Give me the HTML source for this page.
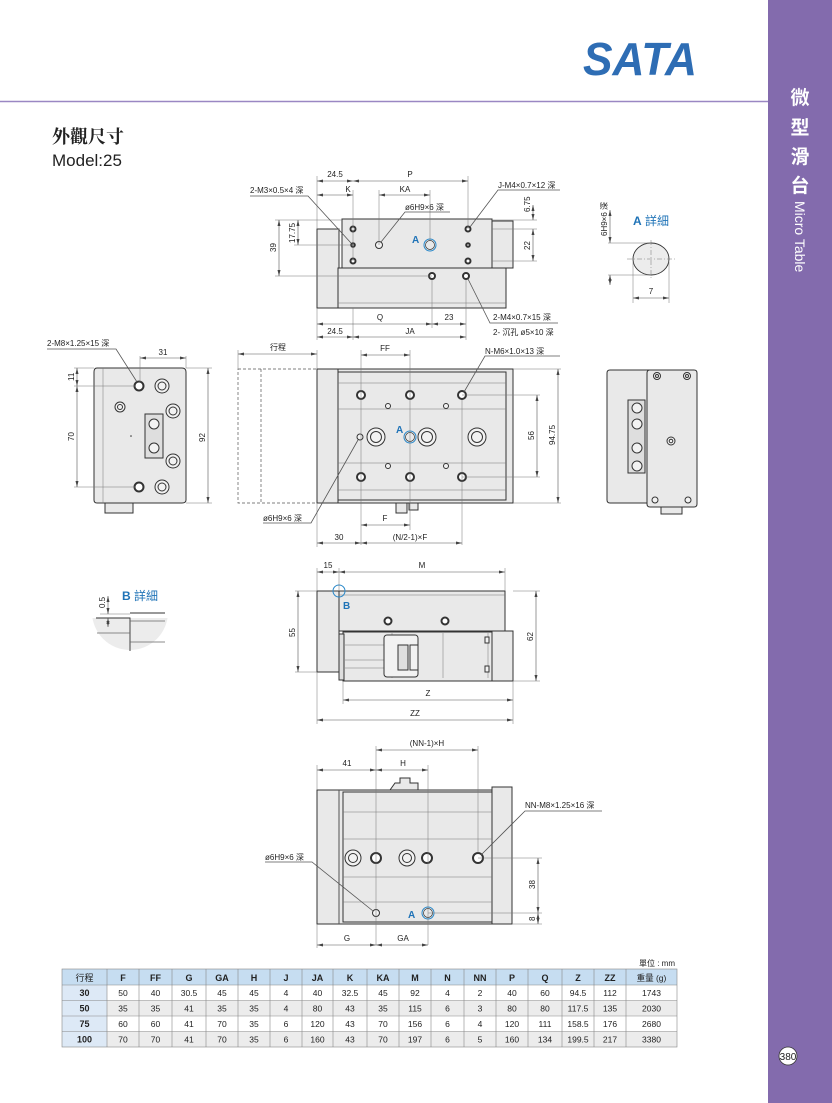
<!DOCTYPE html>
<html><head><meta charset="utf-8"><style>
html,body{margin:0;padding:0;background:#fff}
svg{display:block}
text{font-family:"Liberation Sans","Noto Sans CJK TC",sans-serif;fill:#222}
.p{fill:#e9e9e9;stroke:#333;stroke-width:1}
.q{fill:#dedede;stroke:#333;stroke-width:1}
.d{stroke:#555;stroke-width:.6;fill:none;marker-start:url(#ar);marker-end:url(#ar)}
.e{stroke:#777;stroke-width:.5;fill:none}
.s{stroke:#555;stroke-width:.8;fill:none}
.h{fill:#f2f2f2;stroke:#333;stroke-width:1}
.hb{fill:#fff;stroke:#333;stroke-width:2}
.bl{fill:none;stroke:#2a88c9;stroke-width:1}
.t{font-size:8px}
.tc{font-size:8px;text-anchor:middle}
</style></head><body>
<svg width="832" height="1103" viewBox="0 0 832 1103" xmlns="http://www.w3.org/2000/svg">
<defs>
<marker id="ar" viewBox="0 0 8 4" refX="8" refY="2" markerWidth="6" markerHeight="3" orient="auto-start-reverse" markerUnits="userSpaceOnUse"><path d="M0,0L8,2L0,4z" fill="#444"/></marker>
<clipPath id="bc"><rect x="90" y="618" width="90" height="50"/></clipPath>
</defs>

<!-- sidebar -->
<rect x="768" y="0" width="64" height="1103" fill="#836bad"/>
<line x1="0" y1="101.5" x2="768" y2="101.5" stroke="#9a87c3" stroke-width="1.5"/>
<g fill="#fff" font-weight="bold" font-size="19">
<text x="800" y="104" text-anchor="middle" style="fill:#fff">微</text>
<text x="800" y="134" text-anchor="middle" style="fill:#fff">型</text>
<text x="800" y="163" text-anchor="middle" style="fill:#fff">滑</text>
<text x="800" y="192" text-anchor="middle" style="fill:#fff">台</text>
</g>
<text x="0" y="0" transform="translate(795,201) rotate(90)" font-size="14" style="fill:#fff">Micro Table</text>
<circle cx="788" cy="1056" r="9" fill="#fff" stroke="#333" stroke-width=".8"/>
<text x="788" y="1060" font-size="10" text-anchor="middle">380</text>

<!-- logo -->
<text x="583" y="75" font-size="46" font-weight="bold" font-style="italic" textLength="114" lengthAdjust="spacingAndGlyphs" style="fill:#2e6db4">SATA</text>

<!-- title -->
<text x="52" y="143" font-size="18" font-weight="bold" style="font-family:'Liberation Serif','Noto Serif CJK SC',serif">外觀尺寸</text>
<text x="52" y="166" font-size="17">Model:25</text>

<!-- ===== VIEW 1 top ===== -->
<rect class="p" x="317" y="229" width="22" height="79"/>
<rect class="p" x="338" y="268" width="168" height="40"/>
<line class="e" x1="338" y1="303" x2="506" y2="303"/>
<rect class="p" x="342" y="219" width="150" height="49"/>
<rect class="p" x="492" y="221" width="21" height="47"/>
<circle class="hb" cx="353" cy="229" r="2.5"/><circle class="hb" cx="353" cy="245" r="1.8"/><circle class="hb" cx="353" cy="261" r="2.5"/>
<circle class="hb" cx="468" cy="229" r="2.5"/><circle class="hb" cx="468" cy="245" r="1.8"/><circle class="hb" cx="468" cy="261" r="2.5"/>
<circle class="h" cx="379" cy="245" r="3.5"/>
<circle class="bl" cx="430" cy="245" r="6"/><circle fill="none" stroke="#333" stroke-width=".7" cx="430" cy="245" r="4.5"/>
<circle class="hb" cx="432" cy="276" r="3"/><circle class="hb" cx="466" cy="276" r="3"/>
<text x="412" y="243" font-size="10" font-weight="bold" style="fill:#1f73b7">A</text>
<!-- ext lines -->
<path class="e" d="M317 176V229M353 190V261M468 176V229M379 190V245M430 190V240M317 308V340M353 308V340M432 280V328M466 280V340M275 220H342M275 276H432M294 245H353M492 220H537M492 229H537M492 261H537"/>
<line class="d" x1="317" y1="181" x2="353" y2="181"/><line class="d" x1="353" y1="181" x2="468" y2="181"/>
<text class="tc" x="335" y="177">24.5</text><text class="tc" x="410" y="177">P</text>
<line class="d" x1="317" y1="195" x2="353" y2="195"/><line class="d" x1="379" y1="195" x2="430" y2="195"/>
<text class="tc" x="348" y="192">K</text><text class="tc" x="405" y="192">KA</text>
<line class="d" x1="279" y1="220" x2="279" y2="276"/><text class="t" transform="translate(276,252) rotate(-90)">39</text>
<line class="d" x1="298" y1="220" x2="298" y2="245"/><text class="t" transform="translate(295,243) rotate(-90)">17.75</text>
<line class="d" x1="533" y1="205" x2="533" y2="220"/><line class="d" x1="533" y1="229" x2="533" y2="261"/>
<text class="t" transform="translate(530,212) rotate(-90)">6.75</text><text class="t" transform="translate(530,250) rotate(-90)">22</text>
<line class="d" x1="317" y1="324" x2="432" y2="324"/><line class="d" x1="432" y1="324" x2="466" y2="324"/>
<text class="tc" x="380" y="320">Q</text><text class="tc" x="449" y="320">23</text>
<line class="d" x1="317" y1="337" x2="353" y2="337"/><line class="d" x1="353" y1="337" x2="466" y2="337"/>
<text class="tc" x="335" y="334">24.5</text><text class="tc" x="410" y="334">JA</text>
<text class="t" x="250" y="193">2-M3×0.5×4 深</text><path class="s" d="M250 196H308L351 243"/>
<text class="t" x="405" y="210">ø6H9×6 深</text><path class="s" d="M450 212H405L381 242"/>
<text class="t" x="498" y="188">J-M4×0.7×12 深</text><path class="s" d="M560 190H498L470 227"/>
<text class="t" x="493" y="320">2-M4×0.7×15 深</text><text class="t" x="493" y="335">2- 沉孔 ø5×10 深</text>
<path class="s" d="M558 323H490L468 279"/>

<!-- A detail -->
<text x="633" y="225" font-size="12" style="fill:#1f73b7"><tspan font-weight="bold">A</tspan> 詳細</text>
<ellipse cx="651" cy="259" rx="18" ry="16" fill="#ececec" stroke="#333" stroke-width=".9"/>
<path class="e" d="M627 259H676M651 240V278" stroke-dasharray="5 2 1 2"/>
<path class="e" d="M608 243H651M608 275H651M633 262V303M669 262V303"/>
<line class="d" x1="610" y1="210" x2="610" y2="243"/><line class="d" x1="610" y1="275" x2="610" y2="285"/>
<text class="t" transform="translate(607,236) rotate(-90)" font-size="7">6H9×6 深</text>
<line class="d" x1="633" y1="298" x2="669" y2="298"/><text class="tc" x="651" y="294">7</text>

<!-- ===== VIEW 2 mid ===== -->
<rect x="238" y="369" width="79" height="134" fill="none" stroke="#555" stroke-width=".7" stroke-dasharray="3 2"/>
<line x1="261" y1="369" x2="261" y2="503" stroke="#555" stroke-width=".7" stroke-dasharray="3 2"/>
<rect class="p" x="317" y="369" width="196" height="134"/>
<rect class="p" x="317" y="369" width="21" height="134"/>
<rect class="p" x="338" y="372" width="168" height="128"/>
<path class="e" d="M338 383H506M338 409H506M338 463H506M338 490H506" stroke="#444" stroke-width=".8"/>
<rect class="p" x="396" y="503" width="11" height="10"/><rect class="p" x="409" y="503" width="9" height="7"/>
<g>
<circle class="hb" cx="361" cy="395" r="4"/><circle class="hb" cx="410" cy="395" r="4"/><circle class="hb" cx="462" cy="395" r="4"/>
<circle class="hb" cx="361" cy="477" r="4"/><circle class="hb" cx="410" cy="477" r="4"/><circle class="hb" cx="462" cy="477" r="4"/>
<circle class="h" cx="388" cy="406" r="2.5"/><circle class="h" cx="446" cy="406" r="2.5"/>
<circle class="h" cx="388" cy="466" r="2.5"/><circle class="h" cx="446" cy="466" r="2.5"/>
<circle class="h" cx="360" cy="437" r="3"/>
<circle class="h" cx="376" cy="437" r="9"/><circle class="h" cx="376" cy="437" r="5.5"/>
<circle class="h" cx="427" cy="437" r="9"/><circle class="h" cx="427" cy="437" r="5.5"/>
<circle class="h" cx="477" cy="437" r="9"/><circle class="h" cx="477" cy="437" r="5.5"/>
<circle class="bl" cx="410" cy="437" r="6"/><circle fill="none" stroke="#333" stroke-width=".7" cx="410" cy="437" r="4.5"/>
</g>
<text x="396" y="433" font-size="10" font-weight="bold" style="fill:#1f73b7">A</text>
<path class="e" d="M238 350V369M317 350V369M361 350V545M410 350V530M462 400V545M317 503V547M462 395H540M462 477H540M513 369H561M513 503H561"/>
<line class="d" x1="238" y1="354" x2="317" y2="354"/><text class="tc" x="278" y="350">行程</text>
<line class="d" x1="361" y1="355" x2="410" y2="355"/><text class="tc" x="385" y="351">FF</text>
<text class="t" x="485" y="354">N-M6×1.0×13 深</text><path class="s" d="M560 356H485L464 392"/>
<line class="d" x1="537" y1="395" x2="537" y2="477"/><text class="t" transform="translate(534,440) rotate(-90)">56</text>
<line class="d" x1="558" y1="369" x2="558" y2="503"/><text class="t" transform="translate(555,445) rotate(-90)">94.75</text>
<line class="d" x1="361" y1="525" x2="410" y2="525"/><text class="tc" x="385" y="521">F</text>
<line class="d" x1="317" y1="543" x2="361" y2="543"/><line class="d" x1="361" y1="543" x2="462" y2="543"/>
<text class="tc" x="339" y="540">30</text><text class="tc" x="410" y="540">(N/2-1)×F</text>
<text class="t" x="263" y="521">ø6H9×6 深</text><path class="s" d="M263 523H311L358 440"/>

<!-- ===== VIEW 3 left ===== -->
<path class="p" d="M97 368H182Q186 368 186 372V500Q186 503 182 503H97Q94 503 94 500V372Q94 368 97 368Z"/>
<line class="e" x1="103" y1="368" x2="103" y2="503" stroke="#444"/>
<rect class="p" x="105" y="503" width="28" height="10"/>
<circle class="hb" cx="139" cy="386" r="4.5"/><circle class="h" cx="162" cy="386" r="7"/><circle class="h" cx="162" cy="386" r="4"/>
<circle class="h" cx="120" cy="407" r="5"/><circle class="h" cx="120" cy="407" r="2.5"/>
<circle class="h" cx="173" cy="411" r="7"/><circle class="h" cx="173" cy="411" r="4"/>
<circle class="h" cx="173" cy="461" r="7"/><circle class="h" cx="173" cy="461" r="4"/>
<circle class="hb" cx="139" cy="487" r="4.5"/><circle class="h" cx="162" cy="487" r="7"/><circle class="h" cx="162" cy="487" r="4"/>
<rect class="q" x="145" y="414" width="18" height="44"/>
<circle class="h" cx="154" cy="424" r="5"/><circle class="h" cx="154" cy="448" r="5"/>
<circle cx="131" cy="436" r=".8" fill="#333"/>
<path class="e" d="M140 356V382M186 356V368M74 368H94M74 386H135M74 487H135M186 368H212M186 503H212"/>
<line class="d" x1="140" y1="358" x2="186" y2="358"/><text class="tc" x="163" y="355">31</text>
<line class="d" x1="77" y1="368" x2="77" y2="386"/><line class="d" x1="77" y1="386" x2="77" y2="487"/>
<text class="t" transform="translate(74,381) rotate(-90)">11</text><text class="t" transform="translate(74,441) rotate(-90)">70</text>
<line class="d" x1="208" y1="368" x2="208" y2="503"/><text class="t" transform="translate(205,442) rotate(-90)">92</text>
<text class="t" x="47" y="346">2-M8×1.25×15 深</text><path class="s" d="M47 349H116L137 382"/>

<!-- VIEW 3 right -->
<path class="p" d="M610 370H650V503H610Q607 503 607 500V373Q607 370 610 370Z"/>
<path class="p" d="M650 370H694Q697 370 697 373V504Q697 507 694 507H650Q647 507 647 504V373Q647 370 650 370Z"/>
<rect class="p" x="661" y="507" width="21" height="7"/>
<rect class="q" x="628" y="400" width="17" height="73"/>
<g><circle class="h" cx="637" cy="408" r="5"/><circle class="h" cx="637" cy="424" r="5"/><circle class="h" cx="637" cy="448" r="5"/><circle class="h" cx="637" cy="466" r="5"/></g>
<circle class="h" cx="657" cy="376" r="3.5"/><circle class="h" cx="657" cy="376" r="1.5"/>
<circle class="h" cx="687" cy="376" r="3.5"/><circle class="h" cx="687" cy="376" r="1.5"/>
<circle class="h" cx="671" cy="441" r="4"/><circle class="h" cx="671" cy="441" r="1.8"/>
<circle class="h" cx="655" cy="500" r="3"/><circle class="h" cx="688" cy="500" r="3"/>

<!-- ===== VIEW 4 ===== -->
<rect class="p" x="317" y="591" width="22" height="81"/>
<rect class="p" x="339" y="591" width="166" height="40"/>
<line class="e" x1="339" y1="595" x2="505" y2="595"/>
<rect class="p" x="343" y="632" width="149" height="49"/>
<rect class="p" x="492" y="631" width="21" height="50"/>
<rect class="q" x="339" y="634" width="5" height="46"/>
<path class="e" d="M345 645H392M345 660H392M345 668H392M392 633V678M443 633V678M488 633V678" stroke="#444"/>
<rect class="h" x="384" y="635" width="34" height="42" rx="3"/>
<rect class="q" x="398" y="645" width="10" height="25"/><rect class="h" x="410" y="645" width="8" height="25"/>
<rect class="h" x="485" y="637" width="4" height="6"/><rect class="h" x="485" y="666" width="4" height="6"/>
<circle class="hb" cx="388" cy="621" r="3.5"/><circle class="hb" cx="445" cy="621" r="3.5"/>
<circle class="bl" cx="339" cy="591" r="6"/>
<text x="343" y="609" font-size="10" font-weight="bold" style="fill:#1f73b7">B</text>
<path class="e" d="M317 568V591M339 568V591M505 568V591M295 591H317M295 672H317M513 591H540M513 681H540M343 681V704M513 681V724M317 672V724"/>
<line class="d" x1="317" y1="572" x2="339" y2="572"/><line class="d" x1="339" y1="572" x2="505" y2="572"/>
<text class="tc" x="328" y="568">15</text><text class="tc" x="422" y="568">M</text>
<line class="d" x1="298" y1="591" x2="298" y2="672"/><text class="t" transform="translate(295,637) rotate(-90)">55</text>
<line class="d" x1="536" y1="591" x2="536" y2="681"/><text class="t" transform="translate(533,641) rotate(-90)">62</text>
<line class="d" x1="343" y1="700" x2="513" y2="700"/><text class="tc" x="428" y="696">Z</text>
<line class="d" x1="317" y1="720" x2="513" y2="720"/><text class="tc" x="415" y="716">ZZ</text>

<!-- B detail -->
<text x="122" y="600" font-size="12" style="fill:#1f73b7"><tspan font-weight="bold">B</tspan> 詳細</text>
<circle cx="130" cy="612" r="38" fill="#ececec" clip-path="url(#bc)"/>
<path d="M100 614H130" stroke="#bbb" stroke-width="1"/>
<path d="M96 618H130V651M130 613H165" stroke="#333" stroke-width=".9" fill="none"/>
<path d="M130 621H165M97 633H130M130 642H165" stroke="#666" stroke-width=".7" fill="none"/>
<line class="d" x1="108" y1="596" x2="108" y2="614"/><line class="d" x1="108" y1="627" x2="108" y2="618"/>
<text class="t" transform="translate(105,608) rotate(-90)">0.5</text>

<!-- ===== VIEW 5 ===== -->
<rect class="p" x="317" y="790" width="195" height="134"/>
<rect class="p" x="317" y="790" width="22" height="134"/>
<rect class="p" x="492" y="787" width="20" height="137"/>
<rect class="p" x="343" y="792" width="149" height="130"/>
<path d="M390 790L395 783H400V778H410V783H418V790Z" class="p"/>
<path class="e" d="M339 790V924M343 812H492M343 839H492M343 877H492M343 902H492" stroke="#444" stroke-width=".8"/>
<circle class="h" cx="353" cy="858" r="8"/><circle class="h" cx="353" cy="858" r="4.5"/>
<circle class="hb" cx="376" cy="858" r="5"/>
<circle class="h" cx="407" cy="858" r="8"/><circle class="h" cx="407" cy="858" r="4.5"/>
<circle class="hb" cx="427" cy="858" r="5"/>
<circle class="hb" cx="478" cy="858" r="5"/>
<circle class="h" cx="376" cy="913" r="3.5"/>
<circle class="bl" cx="428" cy="913" r="6"/><circle fill="none" stroke="#333" stroke-width=".7" cx="428" cy="913" r="4.5"/>
<text x="408" y="918" font-size="10" font-weight="bold" style="fill:#1f73b7">A</text>
<path class="e" d="M317 765V790M376 746V945M428 765V945M478 746V853M317 924V948M478 858H542M428 913H542M512 924H542"/>
<line class="d" x1="376" y1="750" x2="478" y2="750"/><text class="tc" x="427" y="746">(NN-1)×H</text>
<line class="d" x1="317" y1="770" x2="376" y2="770"/><line class="d" x1="376" y1="770" x2="428" y2="770"/>
<text class="tc" x="347" y="766">41</text><text class="tc" x="403" y="766">H</text>
<text class="t" x="525" y="808">NN-M8×1.25×16 深</text><path class="s" d="M602 811H525L481 855"/>
<line class="d" x1="538" y1="858" x2="538" y2="913"/><line class="d" x1="538" y1="913" x2="538" y2="924"/>
<text class="t" transform="translate(535,889) rotate(-90)">38</text><text class="t" transform="translate(535,921) rotate(-90)">8</text>
<line class="d" x1="317" y1="945" x2="376" y2="945"/><line class="d" x1="376" y1="945" x2="428" y2="945"/>
<text class="tc" x="347" y="941">G</text><text class="tc" x="403" y="941">GA</text>
<text class="t" x="265" y="860">ø6H9×6 深</text><path class="s" d="M265 862H312L373 911"/>

<!-- ===== TABLE ===== -->
<text x="675" y="966" font-size="8" text-anchor="end">單位 : mm</text>
<g font-size="8.5">
<rect x="62" y="969" width="615" height="16" fill="#c6ddf1"/>
<rect x="62" y="985" width="45" height="62" fill="#dde9f6"/>
<rect x="107" y="1000.5" width="570" height="15.5" fill="#ececec"/>
<rect x="107" y="1031.5" width="570" height="15.5" fill="#ececec"/>
<g stroke="#888" stroke-width=".6" fill="none">
<rect x="62" y="969" width="615" height="78"/>
<path d="M62 985H677M62 1000.5H677M62 1016H677M62 1031.5H677"/>
<path d="M107 969V1047M139 969V1047M172 969V1047M206 969V1047M238 969V1047M270 969V1047M302 969V1047M333 969V1047M367 969V1047M399 969V1047M431 969V1047M464 969V1047M496 969V1047M528 969V1047M562 969V1047M594 969V1047M626 969V1047"/>
</g>
<g text-anchor="middle" font-weight="bold" font-size="9">
<text x="84.5" y="981" font-weight="normal">行程</text><text x="123" y="981">F</text><text x="155.5" y="981">FF</text><text x="189" y="981">G</text><text x="222" y="981">GA</text><text x="254" y="981">H</text><text x="286" y="981">J</text><text x="317.5" y="981">JA</text><text x="350" y="981">K</text><text x="383" y="981">KA</text><text x="415" y="981">M</text><text x="447.5" y="981">N</text><text x="480" y="981">NN</text><text x="512" y="981">P</text><text x="545" y="981">Q</text><text x="578" y="981">Z</text><text x="610" y="981">ZZ</text><text x="651.5" y="981" font-weight="normal" font-size="8.5">重量 (g)</text>
<text x="84.5" y="996">30</text><text x="84.5" y="1011.5">50</text><text x="84.5" y="1027">75</text><text x="84.5" y="1042.5">100</text>
</g>
<g text-anchor="middle">
<text y="996"><tspan x="123">50</tspan><tspan x="155.5">40</tspan><tspan x="189">30.5</tspan><tspan x="222">45</tspan><tspan x="254">45</tspan><tspan x="286">4</tspan><tspan x="317.5">40</tspan><tspan x="350">32.5</tspan><tspan x="383">45</tspan><tspan x="415">92</tspan><tspan x="447.5">4</tspan><tspan x="480">2</tspan><tspan x="512">40</tspan><tspan x="545">60</tspan><tspan x="578">94.5</tspan><tspan x="610">112</tspan><tspan x="651.5">1743</tspan></text>
<text y="1011.5"><tspan x="123">35</tspan><tspan x="155.5">35</tspan><tspan x="189">41</tspan><tspan x="222">35</tspan><tspan x="254">35</tspan><tspan x="286">4</tspan><tspan x="317.5">80</tspan><tspan x="350">43</tspan><tspan x="383">35</tspan><tspan x="415">115</tspan><tspan x="447.5">6</tspan><tspan x="480">3</tspan><tspan x="512">80</tspan><tspan x="545">80</tspan><tspan x="578">117.5</tspan><tspan x="610">135</tspan><tspan x="651.5">2030</tspan></text>
<text y="1027"><tspan x="123">60</tspan><tspan x="155.5">60</tspan><tspan x="189">41</tspan><tspan x="222">70</tspan><tspan x="254">35</tspan><tspan x="286">6</tspan><tspan x="317.5">120</tspan><tspan x="350">43</tspan><tspan x="383">70</tspan><tspan x="415">156</tspan><tspan x="447.5">6</tspan><tspan x="480">4</tspan><tspan x="512">120</tspan><tspan x="545">111</tspan><tspan x="578">158.5</tspan><tspan x="610">176</tspan><tspan x="651.5">2680</tspan></text>
<text y="1042.5"><tspan x="123">70</tspan><tspan x="155.5">70</tspan><tspan x="189">41</tspan><tspan x="222">70</tspan><tspan x="254">35</tspan><tspan x="286">6</tspan><tspan x="317.5">160</tspan><tspan x="350">43</tspan><tspan x="383">70</tspan><tspan x="415">197</tspan><tspan x="447.5">6</tspan><tspan x="480">5</tspan><tspan x="512">160</tspan><tspan x="545">134</tspan><tspan x="578">199.5</tspan><tspan x="610">217</tspan><tspan x="651.5">3380</tspan></text>
</g>
</g>
</svg>
</body></html>
